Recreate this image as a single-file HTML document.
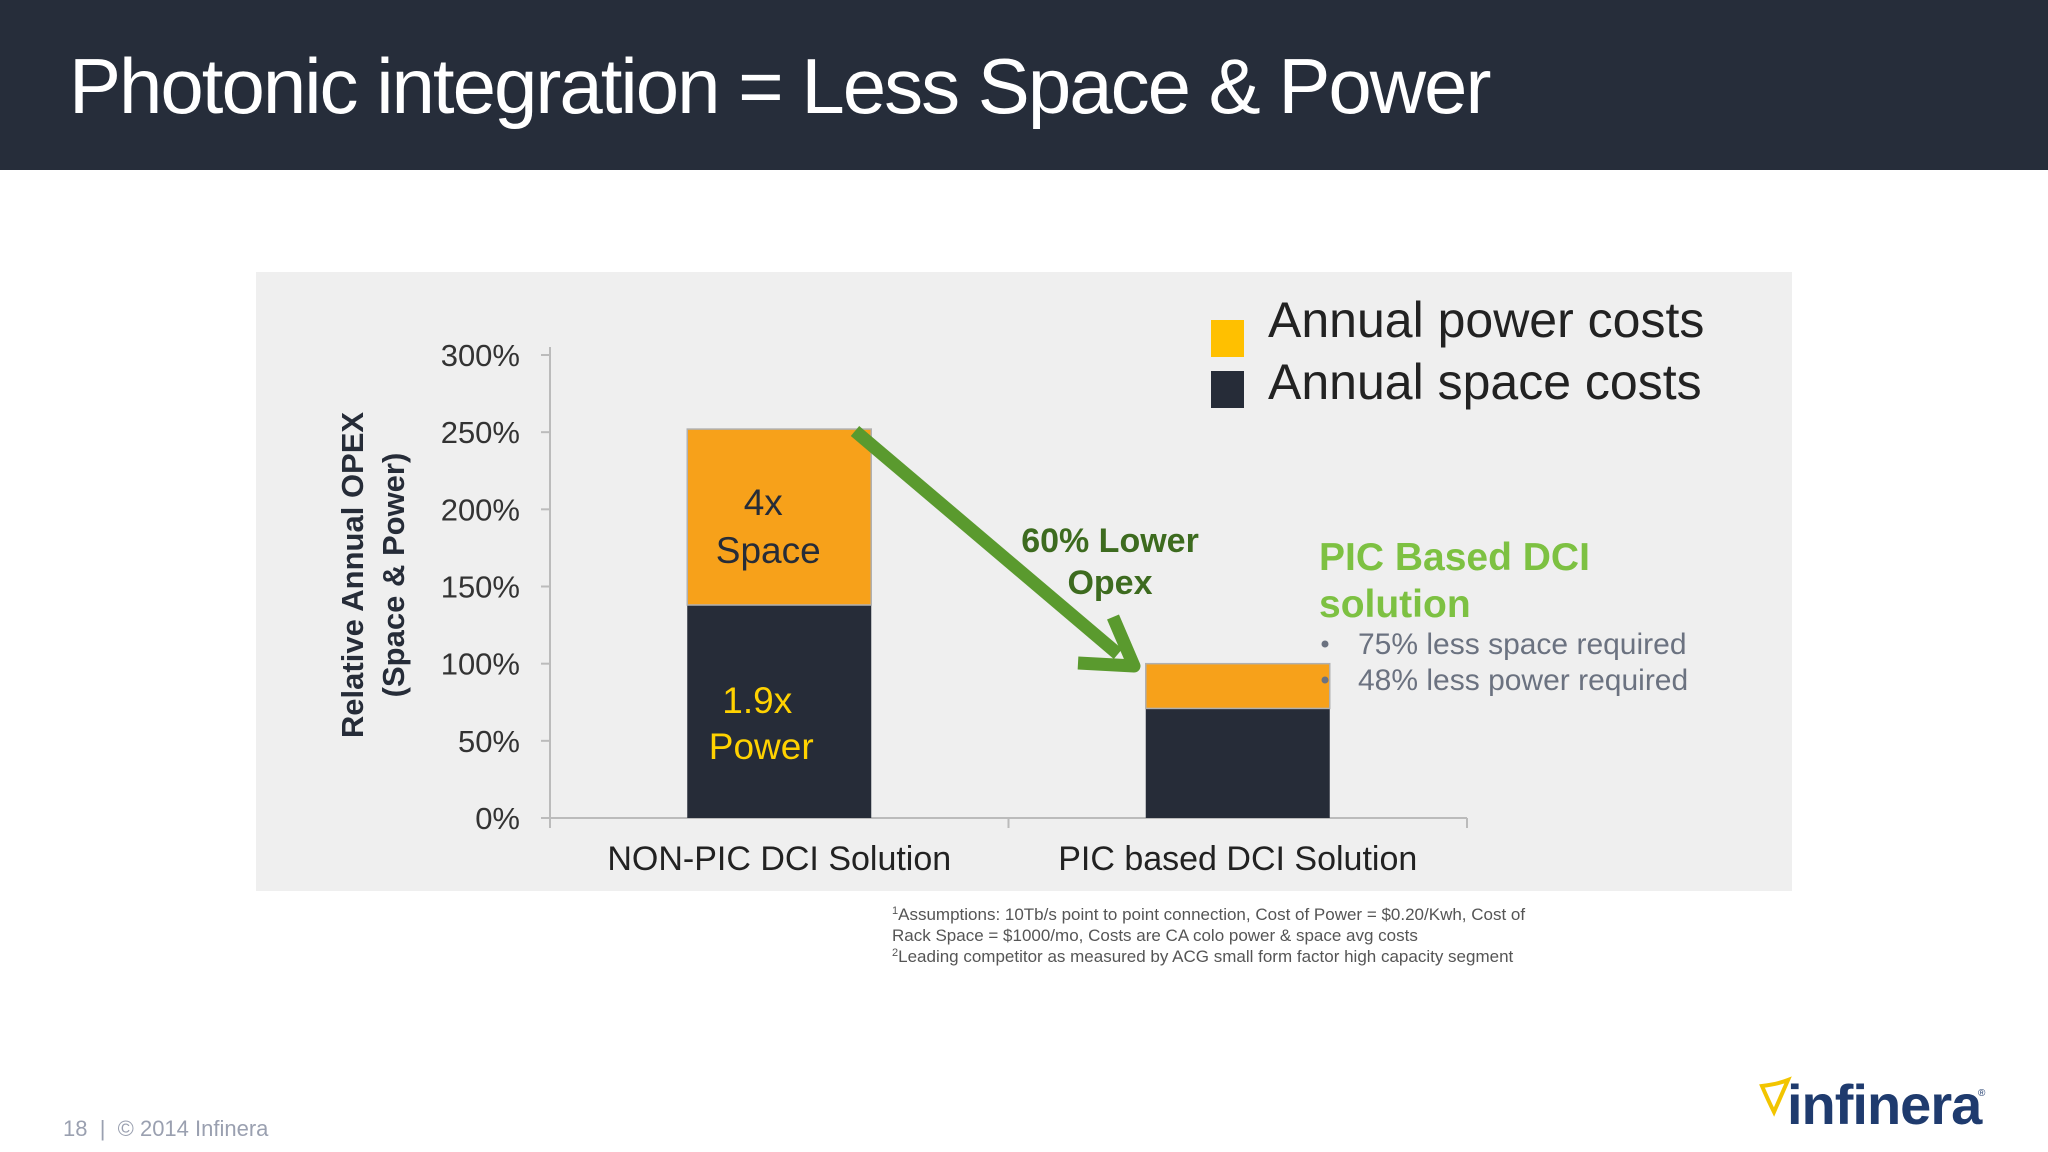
<!DOCTYPE html>
<html><head><meta charset="utf-8"><style>
body{margin:0;background:#fff;}
svg{display:block;font-family:"Liberation Sans",sans-serif;}
</style></head><body>
<svg id="s" width="2048" height="1152" viewBox="0 0 2048 1152">
<rect x="0" y="0" width="2048" height="170" fill="#262d3a"/>
<text x="69" y="113" font-size="78" fill="#fff" letter-spacing="-2">Photonic integration = Less Space &amp; Power</text>
<rect x="256" y="272" width="1536" height="619" fill="#efefef"/>
<g id="chart"></g>
<g>
<rect x="1211" y="320" width="33" height="37" fill="#ffc000"/>
<text x="1268" y="324" font-size="50" fill="#222" dominant-baseline="middle">Annual power costs</text>
<rect x="1211" y="371" width="33" height="37" fill="#262c38"/>
<text x="1268" y="386" font-size="50" fill="#222" dominant-baseline="middle">Annual space costs</text>
</g>
<g font-weight="bold" text-anchor="middle">
<text transform="translate(363,575) rotate(-90)" font-size="31" fill="#262c38">Relative Annual OPEX</text>
<text transform="translate(404,575) rotate(-90)" font-size="31" fill="#262c38">(Space &amp; Power)</text>
</g>
<g>
<line x1="855" y1="431" x2="1118" y2="654" stroke="#5a9a2e" stroke-width="13"/>
<polyline points="1078,663 1134,666 1113,617" fill="none" stroke="#5a9a2e" stroke-width="13" stroke-linejoin="round"/>
</g>
<g font-weight="bold" text-anchor="middle" font-size="34" fill="#3d6b1f">
<text x="1110" y="552">60% Lower</text>
<text x="1110" y="594">Opex</text>
</g>
<g font-weight="bold" font-size="39" fill="#7dc142">
<text x="1319" y="570">PIC Based DCI</text>
<text x="1319" y="617">solution</text>
</g>
<g font-size="30" fill="#6b7280">
<circle cx="1325" cy="644" r="3.5" fill="#6b7280"/>
<text x="1358" y="654">75% less space required</text>
<circle cx="1325" cy="680" r="3.5" fill="#6b7280"/>
<text x="1358" y="690">48% less power required</text>
</g>
<g font-size="17" fill="#555">
<text x="892" y="920"><tspan font-size="11" dy="-6">1</tspan><tspan dy="6">Assumptions: 10Tb/s point to point connection, Cost of Power = $0.20/Kwh, Cost of</tspan></text>
<text x="892" y="941">Rack Space = $1000/mo, Costs are CA colo power &amp; space avg costs</text>
<text x="892" y="962"><tspan font-size="11" dy="-6">2</tspan><tspan dy="6">Leading competitor as measured by ACG small form factor high capacity segment</tspan></text>
</g>
<text x="63" y="1136" font-size="22" fill="#9aa0b0" xml:space="preserve" style="white-space:pre">18  |  © 2014 Infinera</text>
<g>
<path d="M1762,1086 q16,-2 26,-6 l-14,32 q-6,-12 -12,-26z" fill="none" stroke="#f2c500" stroke-width="4"/>
<text x="1787" y="1124" font-size="56" font-weight="bold" fill="#1f3b6e" letter-spacing="-1">infinera</text>
<text x="1978" y="1096" font-size="10" fill="#1f3b6e">®</text>
</g>
</svg>
<script>
const categories=["NON-PIC DCI Solution","PIC based DCI Solution"];
const spaceValues=[138,71];
const powerValues=[114,29];
const yTicks=[0,50,100,150,200,250,300];
const tickLabels=["0%","50%","100%","150%","200%","250%","300%"];
const NS="http://www.w3.org/2000/svg";
const g=document.getElementById('chart');
const x0=550,x1=1467,y0=818,y300=355;
const y=v=>y0-(v/300)*(y0-y300);
const bandW=(x1-x0)/categories.length;
const barW=184;
const bx=i=>x0+bandW*i+(bandW-barW)/2;
function mk(t,a){const e=document.createElementNS(NS,t);for(const k in a)e.setAttribute(k,a[k]);g.appendChild(e);return e;}
let e=mk('line',{x1:x0,y1:y300-8,x2:x0,y2:y0+8,stroke:'#bbb','stroke-width':2});


e=mk('line',{x1:x0,y1:y0,x2:x1,y2:y0,stroke:'#bbb','stroke-width':2});


for(let i=0;i<=categories.length;i++){
 e=mk('line',{x1:x0+bandW*i,y1:y0,x2:x0+bandW*i,y2:y0+10,stroke:'#bbb','stroke-width':2});
 
 
}
yTicks.forEach((t,i)=>{
 e=mk('line',{x1:x0-9,y1:y(t),x2:x0,y2:y(t),stroke:'#bbb','stroke-width':2});
 
 
 e=mk('text',{x:520,y:y(t)+11,'font-size':31,fill:'#333','text-anchor':'end'});
 e.textContent=tickLabels[i];
 
 
});
categories.forEach((c,i)=>{
 e=mk('rect',{x:bx(i),y:y(spaceValues[i]),width:barW,height:y0-y(spaceValues[i]),fill:'#262c38'});
 
 
 const tot=spaceValues[i]+powerValues[i];
 e=mk('rect',{x:bx(i),y:y(tot),width:barW,height:y(spaceValues[i])-y(tot),fill:'#f7a11a',stroke:'#b0b0b0','stroke-width':1.5});
 
 
 e=mk('text',{x:x0+bandW*(i+0.5),y:870,'font-size':34,fill:'#222','text-anchor':'middle'});
 e.textContent=c;
 
 
});
const lab=[["4x",515,'#262c38',-16],["Space",563,'#262c38',-11],["1.9x",713,'#ffd200',-22],["Power",759,'#ffd200',-18]];
lab.forEach(l=>{
 e=mk('text',{x:bx(0)+barW/2+l[3],y:l[1],'font-size':37,fill:l[2],'text-anchor':'middle'});
 e.textContent=l[0];
 
 
});
</script>
</body></html>
